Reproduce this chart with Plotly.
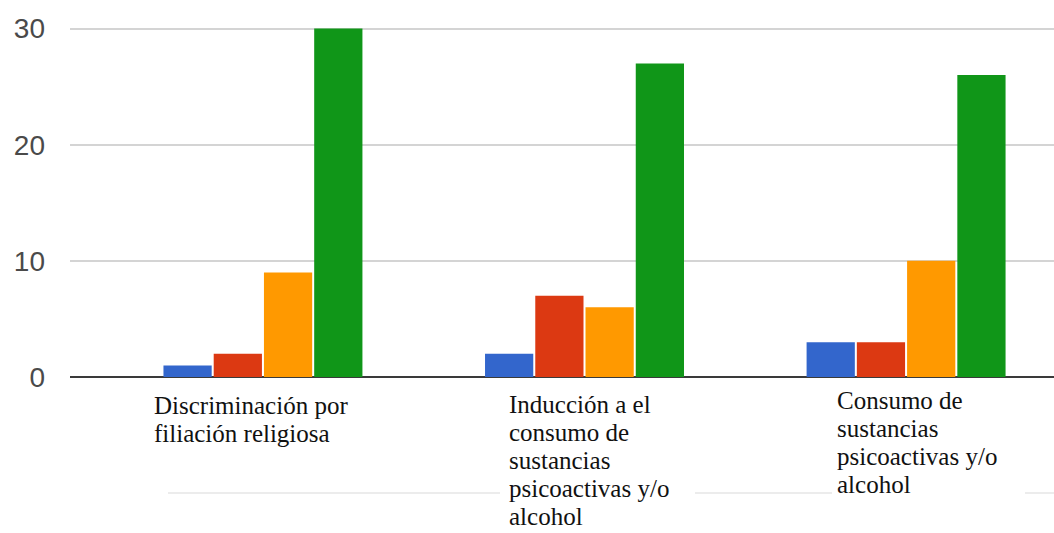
import plotly.graph_objects as go

categories = [
    "Discriminación por<br>filiación religiosa",
    "Inducción a el<br>consumo de<br>sustancias<br>psicoactivas y/o<br>alcohol",
    "Consumo de<br>sustancias<br>psicoactivas y/o<br>alcohol",
]
series_names = ["Serie 1", "Serie 2", "Serie 3", "Serie 4"]
series_values = [
    [1, 2, 3],
    [2, 7, 3],
    [9, 6, 10],
    [30, 27, 26],
]
series_colors = ["#3366cc", "#dc3912", "#ff9900", "#109618"]
y_ticks = [0, 10, 20, 30]

# label layout (pixel offsets from category centre / axis)
label_xshift = [-110, -77, -70]
label_first_baseline = [413, 412, 408]
LINE_STEP = 28
W, H = 1054, 533
M_L, M_R, M_T, M_B = 70, 0, 17, 156
plot_bottom = H - M_B
plot_h = H - M_T - M_B
plot_w = W - M_L - M_R

x_idx = list(range(len(categories)))

fig = go.Figure()
for name, vals, col in zip(series_names, series_values, series_colors):
    fig.add_trace(go.Bar(
        x=x_idx, y=vals, name=name,
        marker=dict(color=col, line=dict(width=0)),
    ))

annotations = []
for i, lab in enumerate(categories):
    for j, line in enumerate(lab.split("<br>")):
        baseline = label_first_baseline[i] + j * LINE_STEP
        mid = baseline - 8
        annotations.append(dict(
            x=i, y=0, xref="x", yref="y",
            text=line, showarrow=False,
            xanchor="left", yanchor="middle", borderpad=0,
            xshift=label_xshift[i], yshift=-(mid - plot_bottom),
            font=dict(family="Liberation Serif, Times New Roman, serif", size=25, color="#111111"),
        ))

def px_to_paper_x(px):
    return (px - M_L) / plot_w

def px_to_paper_y(py):
    return (plot_bottom - py) / plot_h

shapes = []
faint_segments = [(168, 500), (695, 832), (1025, 1054)]
for a, b in faint_segments:
    shapes.append(dict(
        type="line", xref="paper", yref="paper",
        x0=px_to_paper_x(a), x1=px_to_paper_x(b),
        y0=px_to_paper_y(493), y1=px_to_paper_y(493),
        line=dict(color="#ececec", width=2), layer="below",
    ))

fig.update_layout(
    width=W, height=H,
    margin=dict(l=M_L, r=M_R, t=M_T, b=M_B, pad=0),
    paper_bgcolor="white", plot_bgcolor="white",
    barmode="group", bargap=0.375, bargroupgap=0.04,
    showlegend=False,
    annotations=annotations,
    shapes=shapes,
    xaxis=dict(
        range=[-0.6, 2.46], showticklabels=False, showgrid=False,
        zeroline=False, showline=False, ticks="", fixedrange=True,
    ),
    yaxis=dict(
        range=[0, 31], tickvals=y_ticks, ticktext=[str(v) for v in y_ticks],
        showgrid=True, gridcolor="#d4d4d4", gridwidth=2,
        zeroline=True, zerolinecolor="#3a3a3a", zerolinewidth=2,
        showline=False, ticks="", ticklabelstandoff=24,
        tickfont=dict(family="Liberation Sans, Arial, sans-serif", size=28, color="#4a4a4a"),
    ),
)

fig.write_html(
    "out.html",
    config={"displayModeBar": False},
    post_script="document.body.style.margin='0px';document.body.style.overflow='hidden';",
)
